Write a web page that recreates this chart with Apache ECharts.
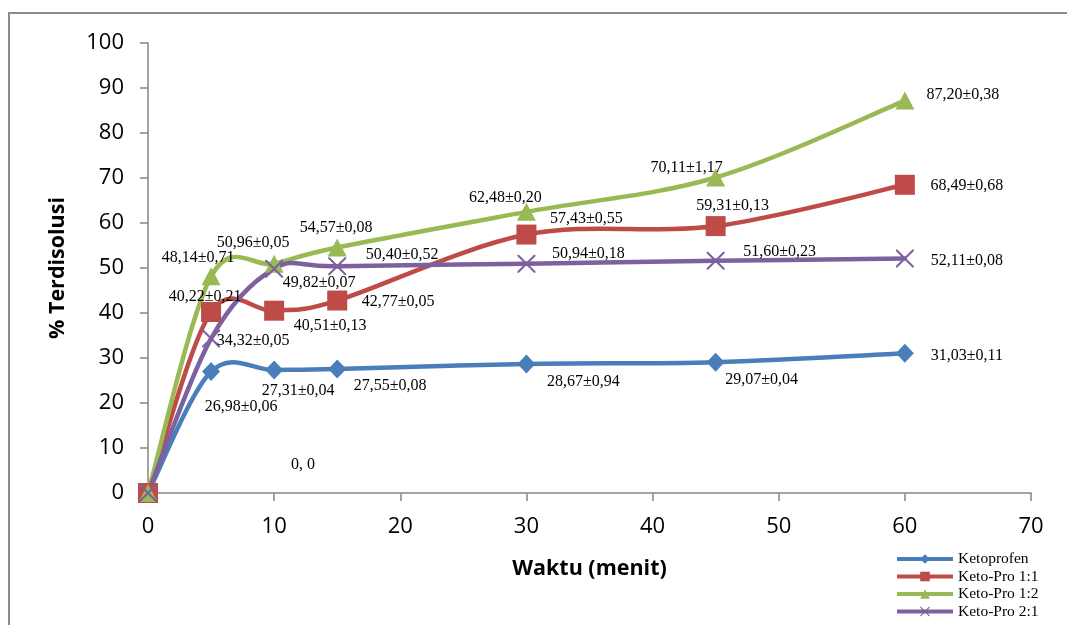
<!DOCTYPE html>
<html>
<head>
<meta charset="utf-8">
<script src="https://cdn.jsdelivr.net/npm/echarts@6/dist/echarts.min.js"></script>
<style>html,body{margin:0;padding:0;background:#fff}#c{width:1067px;height:625px}</style>
</head>
<body>
<div id="c"></div>
<script>
// ---- data ----
const waktu = [0, 5, 10, 15, 30, 45, 60];
const seriesNames = ['Ketoprofen', 'Keto-Pro 1:1', 'Keto-Pro 1:2', 'Keto-Pro 2:1'];
const ketoprofen = [0, 26.98, 27.31, 27.55, 28.67, 29.07, 31.03];
const ketoprofenSD = [0, 0.06, 0.04, 0.08, 0.94, 0.04, 0.11];
const ketoPro11 = [0, 40.22, 40.51, 42.77, 57.43, 59.31, 68.49];
const ketoPro11SD = [0, 0.21, 0.13, 0.05, 0.55, 0.13, 0.68];
const ketoPro12 = [0, 48.14, 50.96, 54.57, 62.48, 70.11, 87.20];
const ketoPro12SD = [0, 0.71, 0.05, 0.08, 0.20, 1.17, 0.38];
const ketoPro21 = [0, 34.32, 49.82, 50.40, 50.94, 51.60, 52.11];
const ketoPro21SD = [0, 0.05, 0.07, 0.52, 0.18, 0.23, 0.08];
const xTicks = [0, 10, 20, 30, 40, 50, 60, 70];
const yTicks = [0, 10, 20, 30, 40, 50, 60, 70, 80, 90, 100];

// ---- label placement (style, px offsets from marker centre) ----
const labelOffsets = [
  [[155, -28], [30, 35], [24, 21], [53, 17], [57, 18], [46, 18], [62, 2]],
  [null, [-6, -15], [56, 15], [61, 1], [60, -16], [17, -20], [62, 1]],
  [null, [-13, -19], [-21, -21], [-1, -20], [-21, -14], [-29, -10], [58, -6]],
  [null, [42, 2], [45, 14], [65, -11], [62, -10], [64, -9], [62, 2]]
];
const colors = ['#4A7EBB', '#BE4B48', '#98B954', '#7D60A0'];
const xPath = 'path://M0,0 L1.6,0 L10,8.4 L18.4,0 L20,0 L20,1.6 L11.6,10 L20,18.4 L20,20 L18.4,20 L10,11.6 L1.6,20 L0,20 L0,18.4 L8.4,10 L0,1.6 Z';
const symbols = ['diamond', 'rect', 'triangle', xPath];
const symbolSizes = [[18, 19], 20, [19, 18], 18];
const TENSION = 1 / 6; // spreadsheet-style smoothing

const values = [ketoprofen, ketoPro11, ketoPro12, ketoPro21];
const sds = [ketoprofenSD, ketoPro11SD, ketoPro12SD, ketoPro21SD];

function fmt(n) { return n.toFixed(2).replace('.', ','); }

// smooth curves (drawn through the axes with api.coord)
const curveSeries = values.map((vals, si) => ({
  name: 'curve' + si,
  type: 'custom',
  z: 2 + si,
  silent: true,
  clip: false,
  encode: { x: 0, y: 1 },
  data: waktu.map((x, k) => [x, vals[k]]),
  renderItem: function (params, api) {
    const i = params.dataIndex;
    const n = waktu.length;
    if (i >= n - 1) return null;
    const P = (k) => api.coord([waktu[k], vals[k]]);
    const p0 = P(Math.max(i - 1, 0)), p1 = P(i), p2 = P(i + 1), p3 = P(Math.min(i + 2, n - 1));
    return {
      type: 'bezierCurve',
      shape: {
        x1: p1[0], y1: p1[1], x2: p2[0], y2: p2[1],
        cpx1: p1[0] + (p2[0] - p0[0]) * TENSION, cpy1: p1[1] + (p2[1] - p0[1]) * TENSION,
        cpx2: p2[0] - (p3[0] - p1[0]) * TENSION, cpy2: p2[1] - (p3[1] - p1[1]) * TENSION
      },
      style: { stroke: colors[si], lineWidth: 4.5, fill: null, lineCap: 'round', lineJoin: 'round' }
    };
  }
}));

// markers, labels, legend entries
const markerSeries = values.map((vals, si) => ({
  name: seriesNames[si],
  type: 'line',
  symbol: symbols[si],
  symbolSize: symbolSizes[si],
  showAllSymbol: true,
  lineStyle: { width: 4.5, color: colors[si], opacity: 0 },
  itemStyle: { color: colors[si] },
  z: 10 + si,
  data: vals.map((v, i) => {
    const off = labelOffsets[si][i];
    const item = { value: [waktu[i], v] };
    if (off) {
      item.label = {
        show: true,
        position: 'inside',
        offset: off,
        formatter: i === 0 ? (waktu[i] + ', ' + v) : (fmt(v) + '±' + fmt(sds[si][i]))
      };
    } else {
      item.label = { show: false };
    }
    return item;
  }),
  label: {
    fontFamily: 'Liberation Serif',
    fontSize: 16,
    color: '#000'
  }
}));

const axisFont = 'Open Sans';
const chart = echarts.init(document.getElementById('c'), null, { renderer: 'canvas' });
chart.setOption({
  animation: false,
  backgroundColor: '#fff',
  grid: { left: 148, right: 36, top: 43, bottom: 132, containLabel: false },
  graphic: [{
    type: 'rect',
    shape: { x: 9, y: 13, width: 1100, height: 700 },
    style: { fill: 'none', stroke: '#8c8c8c', lineWidth: 2 },
    silent: true, z: -1
  }],
  legend: {
    orient: 'vertical',
    left: 895,
    top: 551,
    padding: 0,
    itemWidth: 56,
    itemHeight: 12,
    itemGap: 1.5,
    data: seriesNames,
    lineStyle: { width: 4, opacity: 1 },
    textStyle: { fontFamily: 'Liberation Serif', fontSize: 15.5, color: '#000', lineHeight: 16 }
  },
  xAxis: {
    type: 'value',
    min: xTicks[0],
    max: xTicks[xTicks.length - 1],
    interval: 10,
    name: 'Waktu (menit)',
    nameLocation: 'middle',
    nameGap: 65,
    nameTextStyle: { fontFamily: axisFont, fontWeight: 'bold', fontSize: 21.5, color: '#000' },
    axisLine: { lineStyle: { color: '#868686', width: 1.5 } },
    axisTick: { show: true, inside: false, length: 8, lineStyle: { color: '#868686', width: 1.5 } },
    axisLabel: { fontFamily: axisFont, fontSize: 22, color: '#000', margin: 23 },
    splitLine: { show: false }
  },
  yAxis: {
    type: 'value',
    min: yTicks[0],
    max: yTicks[yTicks.length - 1],
    interval: 10,
    name: '% Terdisolusi',
    nameLocation: 'middle',
    nameGap: 79,
    nameTextStyle: { fontFamily: axisFont, fontWeight: 'bold', fontSize: 21.5, color: '#000' },
    axisLine: { show: true, lineStyle: { color: '#868686', width: 1.5 } },
    axisTick: { show: true, inside: false, length: 8, lineStyle: { color: '#868686', width: 1.5 } },
    axisLabel: { fontFamily: axisFont, fontSize: 22, color: '#000', margin: 24 },
    splitLine: { show: false }
  },
  series: curveSeries.concat(markerSeries)
});
</script>
</body>
</html>
